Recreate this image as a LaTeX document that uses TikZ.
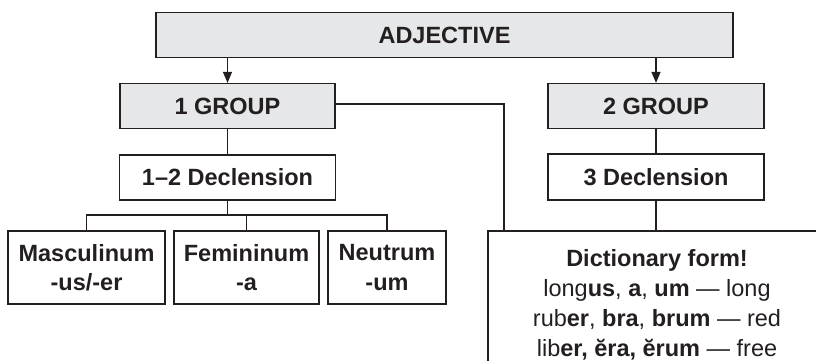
\documentclass[tikz,border=0pt]{standalone}
\usepackage{fontspec}
\setmainfont{Liberation Sans}
\usetikzlibrary{arrows.meta}
\definecolor{ink}{HTML}{231F20}
\definecolor{boxgray}{HTML}{E6E7E8}
\begin{document}
\begin{tikzpicture}[x=1pt,y=-1pt,
  box/.style={draw=ink, line width=1.2pt, rectangle, inner sep=0pt, align=center, text=ink,
              font=\fontsize{23.5}{29.5}\selectfont\bfseries},
  graybox/.style={box, fill=boxgray},
  conn/.style={draw=ink, line width=1.2pt},
  arr/.style={conn, -{Triangle[length=11pt,width=9pt]}}]
\useasboundingbox (0,0) rectangle (816,360);
\clip (0,0) rectangle (816,360);
\node[graybox, minimum width=577pt, minimum height=45pt] (adj) at (444.5,35) {ADJECTIVE};
\node[graybox, minimum width=215pt, minimum height=45pt] (g1) at (227.5,106) {1 GROUP};
\node[graybox, minimum width=216pt, minimum height=45pt] (g2) at (656,106) {2 GROUP};
\node[box, minimum width=216pt, minimum height=45pt] (d12) at (227.5,177.5) {1--2 Declension};
\node[box, minimum width=216pt, minimum height=46pt] (d3) at (656,177) {3 Declension};
\node[box, minimum width=157pt, minimum height=73pt] (masc) at (86.5,267.5) {Masculinum\\-us/-er};
\node[box, minimum width=145pt, minimum height=73pt] (fem) at (246.5,267.5) {Femininum\\-a};
\node[box, minimum width=118pt, minimum height=73pt] (neut) at (387,267.5) {Neutrum\\-um};
\node[box, minimum width=336pt, minimum height=169pt] (dict) at (656,315.5) {};
\node[anchor=north, inner sep=0pt, align=center, text=ink, font=\fontsize{23.5}{30}\selectfont] (dtext) at (657,249)
  {\textbf{Dictionary form!}\\
   long\textbf{us}, \textbf{a}, \textbf{um} — long\\
   rub\textbf{er}, \textbf{bra}, \textbf{brum} — red\\
   lib\textbf{er, ĕra, ĕrum} — free};
% arrows from ADJECTIVE
\draw[arr] (adj.south -| g1.north) -- (g1.north);
\draw[arr] (adj.south -| g2.north) -- (g2.north);
% group 1
\draw[conn] (g1.south) -- (d12.north);
\coordinate (j) at (504,104);
\draw[conn] (g1.east |- j) -- (j) -- (j |- dict.north);
\coordinate (br) at (227.5,215);
\draw[conn] (d12.south) -- (br);
\draw[conn] (masc.north) -- (masc.north |- br) -- (neut.north |- br) -- (neut.north);
\draw[conn] (fem.north) -- (fem.north |- br);
% group 2
\draw[conn] (g2.south) -- (d3.north);
\draw[conn] (d3.south) -- (dict.north);
\end{tikzpicture}
\end{document}
